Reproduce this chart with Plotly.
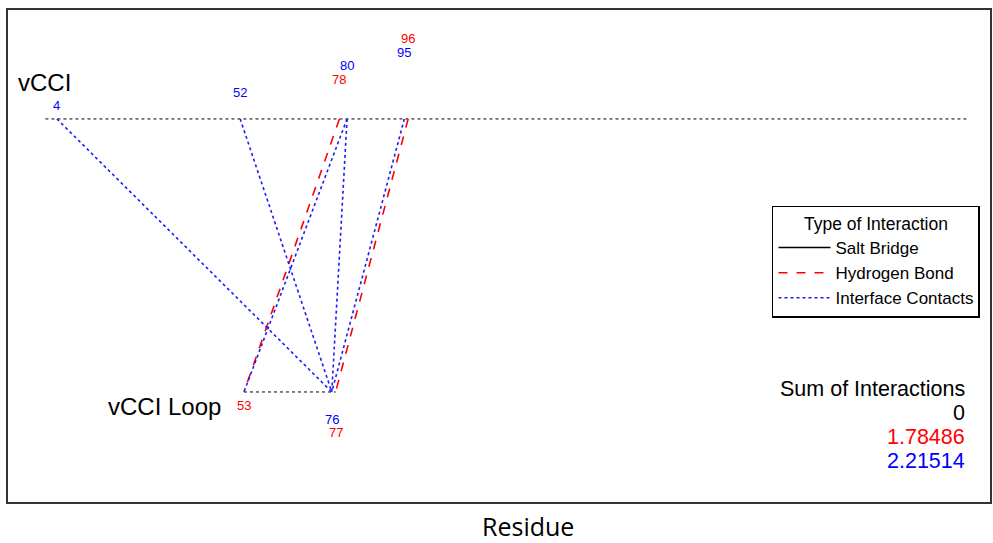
import plotly.graph_objects as go

# ---- data ----
chain_top_name = "vCCI"
chain_bot_name = "vCCI Loop"
top_range = [1, 243]          # residues spanned by the vCCI track
bot_range = [53, 77]          # residues spanned by the loop track

hbond_top = [78, 96]
hbond_bot = [53, 77]
contact_top = [4, 52, 80, 80, 95]
contact_bot = [76, 76, 53, 76, 76]

top_labels = [4, 52, 78, 80, 95, 96]
top_label_colors = ["blue", "blue", "red", "blue", "blue", "red"]
bot_labels = [53, 76, 77]
bot_label_colors = ["red", "blue", "red"]

sum_labels = ["Sum of Interactions", "0", "1.78486", "2.21514"]
sum_colors = ["black", "black", "red", "blue"]

RED = "#ff0000"
BLUE = "#1a1aff"
FONT = "Liberation Sans, Arial, sans-serif"


def segs(tops, bots):
    xs, ys = [], []
    for t, b in zip(tops, bots):
        xs += [t, b, None]
        ys += [1, 0, None]
    return xs, ys


fig = go.Figure()
# chain tracks
fig.add_trace(go.Scatter(x=top_range, y=[1, 1], mode="lines",
                         line=dict(color="black", width=1, dash="dot"),
                         showlegend=False, hoverinfo="skip"))
fig.add_trace(go.Scatter(x=bot_range, y=[0, 0], mode="lines",
                         line=dict(color="black", width=1, dash="dot"),
                         showlegend=False, hoverinfo="skip"))
# legend-only salt bridge (no interactions)
fig.add_trace(go.Scatter(x=[None], y=[None], mode="lines", name="Salt Bridge",
                         line=dict(color="black", width=1.5)))
hx, hy = segs(hbond_top, hbond_bot)
fig.add_trace(go.Scatter(x=hx, y=hy, mode="lines", name="Hydrogen Bond",
                         line=dict(color=RED, width=1.6, dash="dash")))
cx, cy = segs(contact_top, contact_bot)
fig.add_trace(go.Scatter(x=cx, y=cy, mode="lines", name="Interface Contacts",
                         line=dict(color=BLUE, width=1.6, dash="dot")))

ann = []
for i, (r, c) in enumerate(zip(top_labels, top_label_colors)):
    ann.append(dict(x=r, y=1, text=str(r), showarrow=False, yshift=13 + 13.4 * i,
                    font=dict(size=13, color=c, family=FONT)))
for i, (r, c) in enumerate(zip(bot_labels, bot_label_colors)):
    ann.append(dict(x=r, y=0, text=str(r), showarrow=False, yshift=-14 - 13.5 * i,
                    font=dict(size=13, color=c, family=FONT)))
ann.append(dict(x=0.008, xref="paper", y=1, yref="y", yshift=36, text=chain_top_name,
                showarrow=False, xanchor="left", font=dict(size=24, color="black", family=FONT)))
ann.append(dict(x=bot_range[0], y=0, xshift=-21, yshift=-15, text=chain_bot_name,
                showarrow=False, xanchor="right", font=dict(size=24, color="black", family=FONT)))
for i, (t, c) in enumerate(zip(sum_labels, sum_colors)):
    ann.append(dict(x=0.977, xref="paper", y=0, yref="y", yshift=3 - 24 * i, text=t,
                    showarrow=False, xanchor="right",
                    font=dict(size=21.5, color=c, family=FONT)))
ann.append(dict(x=0.530, xref="paper", y=-0.049, yref="paper", yanchor="middle", text="Residue",
                showarrow=False, font=dict(size=25, color="black", family="Open Sans, sans-serif")))

fig.update_layout(
    width=993, height=543,
    margin=dict(l=8, r=1, t=10, b=41),
    plot_bgcolor="white", paper_bgcolor="white",
    annotations=ann,
    legend=dict(x=0.778, y=0.602, xanchor="left", yanchor="top",
                bordercolor="black", borderwidth=1.5, bgcolor="white",
                title=dict(text="Type of Interaction", side="top center",
                           font=dict(size=17.5, family=FONT, color="black")),
                font=dict(size=17, family=FONT, color="black"),
                tracegroupgap=0, itemwidth=52),
    xaxis=dict(range=[-8.81, 248.4], showgrid=False, zeroline=False, showticklabels=False,
               ticks="", showline=True, mirror=True, linecolor="#333", linewidth=2),
    yaxis=dict(range=[-0.403, 1.399], showgrid=False, zeroline=False, showticklabels=False,
               ticks="", showline=True, mirror=True, linecolor="#333", linewidth=2),
)

fig.write_html("out.html")
